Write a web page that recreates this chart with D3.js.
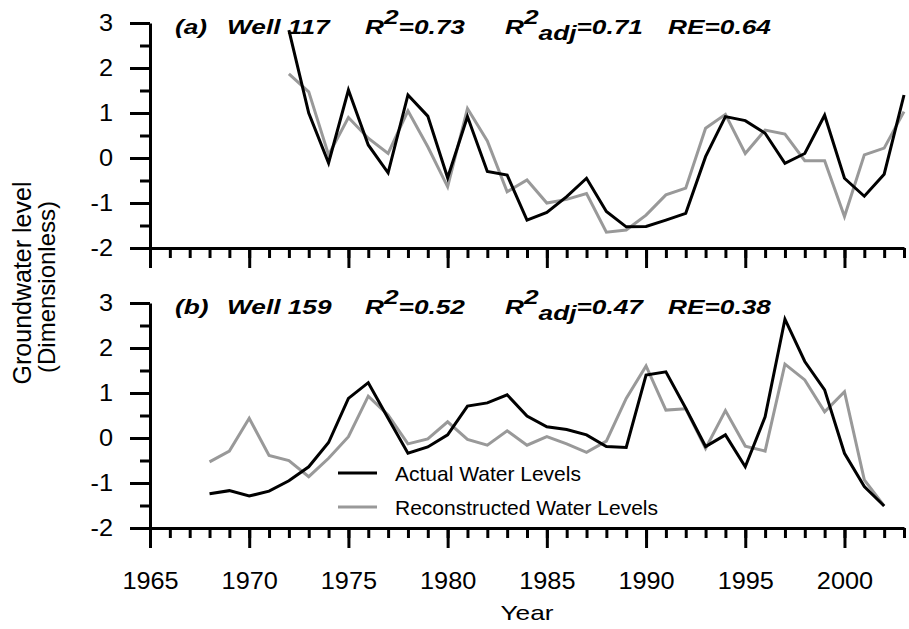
<!DOCTYPE html>
<html>
<head>
<meta charset="utf-8">
<script src="https://cdn.jsdelivr.net/npm/d3@7"></script>
<style>
  body { margin: 0; background: #fff; }
  text { font-family: Arial, "Liberation Sans", sans-serif; }
</style>
</head>
<body>
<div id="chart"></div>
<script>
// panel (a) Well 117
var yearsA = [1972, 1973, 1974, 1975, 1976, 1977, 1978, 1979, 1980, 1981, 1982, 1983, 1984, 1985, 1986, 1987,
              1988, 1989, 1990, 1991, 1992, 1993, 1994, 1995, 1996, 1997, 1998, 1999, 2000, 2001, 2002, 2003];
var actualA = [2.84, 1.00, -0.11, 1.51, 0.29, -0.33, 1.40, 0.93, -0.44, 0.92, -0.30, -0.38, -1.38, -1.21, -0.86, -0.45,
               -1.19, -1.53, -1.52, -1.38, -1.23, 0.03, 0.92, 0.83, 0.55, -0.12, 0.10, 0.95, -0.45, -0.85, -0.36, 1.40];
var reconA = [1.87, 1.47, 0.07, 0.90, 0.44, 0.10, 1.05, 0.25, -0.64, 1.10, 0.38, -0.75, -0.49, -1.00, -0.92, -0.79,
              -1.65, -1.60, -1.27, -0.82, -0.67, 0.66, 0.97, 0.10, 0.62, 0.53, -0.06, -0.06, -1.30, 0.07, 0.22, 1.03];

// panel (b) Well 159
var yearsB = [1968, 1969, 1970, 1971, 1972, 1973, 1974, 1975, 1976, 1977, 1978, 1979, 1980, 1981, 1982, 1983, 1984, 1985,
              1986, 1987, 1988, 1989, 1990, 1991, 1992, 1993, 1994, 1995, 1996, 1997, 1998, 1999, 2000, 2001, 2002];
var actualB = [-1.24, -1.17, -1.29, -1.18, -0.95, -0.64, -0.10, 0.88, 1.23, 0.44, -0.34, -0.20, 0.07, 0.71, 0.78, 0.96, 0.49, 0.25,
               0.19, 0.07, -0.19, -0.21, 1.40, 1.47, 0.66, -0.19, 0.07, -0.64, 0.47, 2.64, 1.70, 1.07, -0.34, -1.08, -1.51];
var reconB = [-0.53, -0.29, 0.44, -0.39, -0.50, -0.86, -0.45, 0.03, 0.93, 0.51, -0.13, -0.02, 0.36, -0.03, -0.16, 0.16, -0.16, 0.03,
              -0.13, -0.32, -0.07, 0.88, 1.60, 0.62, 0.65, -0.23, 0.61, -0.18, -0.29, 1.64, 1.29, 0.58, 1.03, -0.93, -1.51];

// ticks
var xMajor = [1965, 1970, 1975, 1980, 1985, 1990, 1995, 2000];
var xMinor = [1965, 1966, 1967, 1968, 1969, 1970, 1971, 1972, 1973, 1974, 1975, 1976, 1977, 1978, 1979, 1980, 1981, 1982, 1983,
              1984, 1985, 1986, 1987, 1988, 1989, 1990, 1991, 1992, 1993, 1994, 1995, 1996, 1997, 1998, 1999, 2000, 2001, 2002, 2003];
var yMajor = [-2, -1, 0, 1, 2, 3];
var yMinor = [-1.5, -0.5, 0.5, 1.5, 2.5];

var statsA = ["(a)", "Well 117", "0.73", "0.71", "0.64"];
var statsB = ["(b)", "Well 159", "0.52", "0.47", "0.38"];

var width = 909;
var height = 629;
var sx = 1.25;    // the original figure is stretched sideways
var sxTick = 1.1;

var svg = d3.select("#chart")
        .append("svg")
        .attr("width", width)
        .attr("height", height);

var x = d3.scaleLinear().domain([1965, 2003]).range([150, 904]);

var line = function(yScale) {
        return d3.line()
                .x(function(d) { return x(d[0]); })
                .y(function(d) { return yScale(d[1]); });
};

// text stretched along x, placed at (px, py)
function wideText(parent, px, py) {
        return parent.append("text")
                .attr("transform", "translate(" + px + "," + py + ") scale(" + sx + ",1)");
}

function panel(top, years, actual, recon, stats, showLabels) {
        var y = d3.scaleLinear().domain([-2, 3]).range([top + 225, top]);
        var g = svg.append("g");

        // y axis, minor then major
        g.append("g")
                .attr("transform", "translate(150,0)")
                .call(d3.axisLeft(y).tickValues(yMinor).tickSize(10).tickSizeOuter(0).tickFormat(""))
                .call(function(a) { a.select(".domain").remove(); });
        var ya = g.append("g")
                .attr("transform", "translate(150,0)")
                .call(d3.axisLeft(y).tickValues(yMajor).tickSize(20).tickSizeOuter(0)
                        .tickFormat(function(d) { return String(d); }));
        ya.selectAll(".tick text")
                .attr("x", -37 / sxTick)
                .attr("transform", "scale(" + sxTick + ",1)");

        // x axis
        g.append("g")
                .attr("transform", "translate(0," + (top + 225) + ")")
                .call(d3.axisBottom(x).tickValues(xMinor).tickSize(10).tickSizeOuter(0).tickFormat(""));
        var xa = g.append("g")
                .attr("transform", "translate(0," + (top + 225) + ")")
                .call(d3.axisBottom(x).tickValues(xMajor).tickSize(20).tickSizeOuter(0).tickPadding(25)
                        .tickFormat(function(d) { return showLabels ? String(d) : ""; }))
                .call(function(a) { a.select(".domain").remove(); });
        xa.selectAll(".tick text")
                .attr("transform", "scale(" + sxTick + ",1)");

        g.selectAll(".domain, .tick line")
                .attr("stroke", "black")
                .attr("stroke-width", 3);
        g.selectAll(".tick text")
                .attr("fill", "black")
                .style("font-size", "23px");

        var dA = years.map(function(yr, i) { return [yr, actual[i]]; });
        var dR = years.map(function(yr, i) { return [yr, recon[i]]; });

        g.append("path")
                .datum(dR)
                .attr("d", line(y))
                .attr("fill", "none")
                .attr("stroke", "#999999")
                .attr("stroke-width", 3);
        g.append("path")
                .datum(dA)
                .attr("d", line(y))
                .attr("fill", "none")
                .attr("stroke", "black")
                .attr("stroke-width", 3);

        // panel heading
        var ty = top + 11;
        var t = g.append("g")
                .style("font-weight", "bold")
                .style("font-style", "italic")
                .style("font-size", "21px");
        wideText(t, 175, ty).text(stats[0]);
        wideText(t, 227, ty).text(stats[1]);

        var r1 = wideText(t, 365, ty);
        r1.append("tspan").text("R");
        r1.append("tspan").attr("dy", -10).text("2");
        r1.append("tspan").attr("dy", 10).text("=" + stats[2]);

        var r2 = wideText(t, 505, ty);
        r2.append("tspan").text("R");
        r2.append("tspan").attr("dy", -10).text("2");
        r2.append("tspan").attr("dy", 16).text("adj");
        r2.append("tspan").attr("dy", -6).text("=" + stats[3]);

        wideText(t, 668, ty).text("RE=" + stats[4]);

        return y;
}

panel(23, yearsA, actualA, reconA, statsA, false);
panel(303, yearsB, actualB, reconB, statsB, true);

// legend
var legend = svg.append("g");
var items = [["Actual Water Levels", "black", 473], ["Reconstructed Water Levels", "#999999", 507]];
items.forEach(function(it) {
        legend.append("line")
                .attr("x1", 338).attr("x2", 377)
                .attr("y1", it[2]).attr("y2", it[2])
                .attr("stroke", it[1])
                .attr("stroke-width", 3);
        legend.append("text")
                .attr("x", 395)
                .attr("y", it[2] + 8)
                .style("font-size", "21px")
                .text(it[0]);
});

// axis titles
svg.append("text")
        .attr("transform", "translate(31,283) rotate(-90)")
        .attr("text-anchor", "middle")
        .style("font-size", "25px")
        .text("Groundwater level");
svg.append("text")
        .attr("transform", "translate(55,287) rotate(-90)")
        .attr("text-anchor", "middle")
        .style("font-size", "24px")
        .text("(Dimensionless)");

wideText(svg, 527, 620)
        .attr("text-anchor", "middle")
        .style("font-size", "21px")
        .text("Year");
</script>
</body>
</html>
